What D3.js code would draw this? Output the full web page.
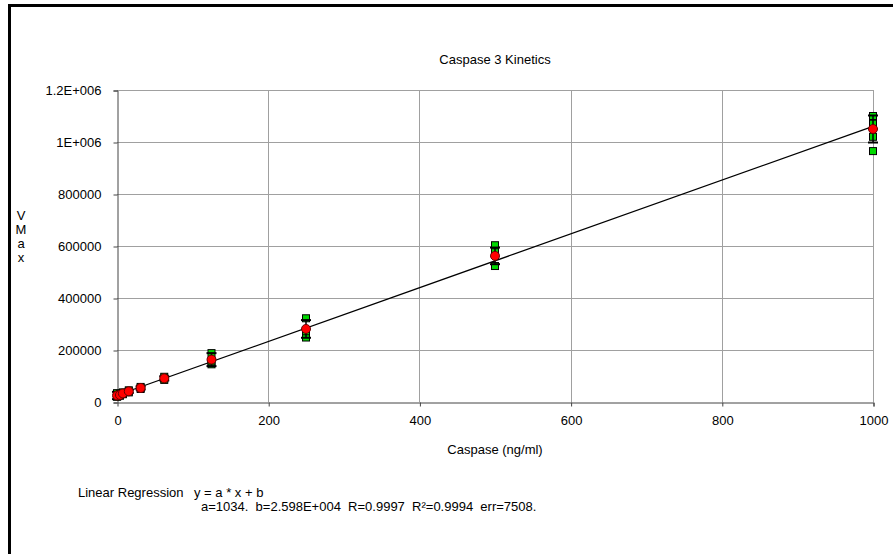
<!DOCTYPE html>
<meta charset="utf-8">
<style>
  body { margin: 0; background: #fff; }
  text { font-family: "Liberation Sans", Arial, sans-serif; fill: #000; }
</style>
<body>
<div id="chart"></div>
<script src="https://d3js.org/d3.v7.min.js"></script>
<script>
  // concentrations (ng/ml)
  var conc = [0, 3.9, 7.8, 15.6, 31.25, 62.5, 125, 250, 500, 1000];
  // replicate wells (green squares)
  var rep1 = [20000, 24000, 30000, 37000, 50000, 85000, 145000, 248000, 523000, 965000];
  var rep2 = [27000, 28000, 33000, 41000, 54000, 91000, 156000, 272000, 580000, 1020000];
  var rep3 = [34000, 31000, 37000, 45000, 58000, 97000, 188000, 322000, 603000, 1070000];
  var rep4 = [null, null, null, null, null, null, null, null, null, 1100000];
  // mean (red) and error
  var vmax = [25000, 27000, 33000, 41000, 54000, 91000, 163000, 281000, 562000, 1050000];
  var vErr = [14000, 6000, 6000, 6000, 6000, 8000, 25000, 34000, 32000, 52000];
  // fit
  var fitA = 1034, fitB = 25980;
  var xTicks = [0, 200, 400, 600, 800, 1000];
  var yTicks = [0, 200000, 400000, 600000, 800000, 1000000, 1200000];
  var yTickLabels = ["0", "200000", "400000", "600000", "800000", "1E+006", "1.2E+006"];

  var W = 893, H = 554, FS = "13px";
  var svg = d3.select("#chart").append("svg")
    .attr("width", W).attr("height", H);

  // frame
  svg.append("line").attr("x1", 9.5).attr("x2", W).attr("y1", 5.5).attr("y2", 5.5)
    .attr("stroke", "#000").attr("stroke-width", 3);
  svg.append("line").attr("x1", 9.5).attr("x2", 9.5).attr("y1", 4).attr("y2", H)
    .attr("stroke", "#000").attr("stroke-width", 3);

  var x = d3.scaleLinear().domain([0, 1000]).range([117, 873]);
  var y = d3.scaleLinear().domain([0, 1200000]).range([402, 90]);

  // grid
  svg.append("g").selectAll("line").data(xTicks.slice(1)).enter().append("line")
    .attr("x1", function(d) { return Math.round(x(d)) + 0.5; })
    .attr("x2", function(d) { return Math.round(x(d)) + 0.5; })
    .attr("y1", y(1200000)).attr("y2", y(0))
    .attr("stroke", "#a0a0a0");
  svg.append("g").selectAll("line").data(yTicks.slice(1)).enter().append("line")
    .attr("y1", function(d) { return Math.round(y(d)) + 0.5; })
    .attr("y2", function(d) { return Math.round(y(d)) + 0.5; })
    .attr("x1", x(0)).attr("x2", x(1000))
    .attr("stroke", "#a0a0a0");

  // axes
  var yAxis = d3.axisLeft(y).tickValues(yTicks).tickSize(4).tickPadding(12)
    .tickFormat(function(d, i) { return yTickLabels[i]; });
  var gy = svg.append("g").attr("transform", "translate(" + (x(0) + 0.5) + ",0.5)").call(yAxis);
  var xAxis = d3.axisBottom(x).tickValues(xTicks).tickSize(4).tickPadding(9)
    .tickFormat(d3.format("d"));
  var gx = svg.append("g").attr("transform", "translate(0.5," + (y(0) + 0.5) + ")").call(xAxis);
  [gx, gy].forEach(function(g) {
    g.select(".domain").attr("stroke", "#444");
    g.selectAll(".tick line").attr("stroke", "#444");
    g.selectAll("text").style("font-family", "Liberation Sans, Arial, sans-serif")
      .style("font-size", FS).attr("fill", "#000");
  });
  gx.select(".tick line").remove();

  // titles
  svg.append("text").attr("x", 495).attr("y", 64).attr("text-anchor", "middle")
    .style("font-size", FS).text("Caspase 3 Kinetics");
  svg.append("text").attr("x", 495).attr("y", 454).attr("text-anchor", "middle")
    .style("font-size", FS).text("Caspase (ng/ml)");
  svg.append("g").selectAll("text").data(["V", "M", "a", "x"]).enter().append("text")
    .attr("x", 21).attr("y", function(d, i) { return 220 + i * 14; })
    .attr("text-anchor", "middle").style("font-size", FS)
    .text(function(d) { return d; });
  svg.append("text").attr("x", 78).attr("y", 497).style("font-size", FS)
    .text("Linear Regression");
  svg.append("text").attr("x", 194).attr("y", 497).style("font-size", FS)
    .text("y = a * x + b");
  svg.append("text").attr("x", 201).attr("y", 511).style("font-size", FS)
    .style("white-space", "pre")
    .text("a=1034.  b=2.598E+004  R=0.9997  R\u00b2=0.9994  err=7508.");

  // fit line
  svg.append("line")
    .attr("x1", x(0)).attr("y1", y(fitB))
    .attr("x2", x(1000)).attr("y2", y(fitA * 1000 + fitB))
    .attr("stroke", "#000").attr("stroke-width", 1.2);

  // replicates
  var reps = [];
  [rep1, rep2, rep3, rep4].forEach(function(r) {
    r.forEach(function(v, i) { if (v != null) reps.push({ c: conc[i], v: v }); });
  });
  svg.append("g").selectAll("rect").data(reps).enter().append("rect")
    .attr("x", function(d) { return x(d.c) - 3.5; })
    .attr("y", function(d) { return y(d.v) - 3.5; })
    .attr("width", 7).attr("height", 7)
    .attr("fill", "#00d800").attr("stroke", "#000").attr("stroke-width", 1);

  // error bars
  var eb = svg.append("g").attr("stroke", "#000").attr("stroke-width", 2);
  conc.forEach(function(c, i) {
    var cx = x(c), t = y(vmax[i] + vErr[i]), b = y(vmax[i] - vErr[i]);
    eb.append("line").attr("x1", cx).attr("x2", cx).attr("y1", t).attr("y2", b).attr("stroke-width", 1.5);
    eb.append("line").attr("x1", cx - 5).attr("x2", cx + 5).attr("y1", t).attr("y2", t);
    eb.append("line").attr("x1", cx - 5).attr("x2", cx + 5).attr("y1", b).attr("y2", b);
  });

  // means
  svg.append("g").selectAll("circle").data(conc).enter().append("circle")
    .attr("cx", function(d) { return x(d); })
    .attr("cy", function(d, i) { return y(vmax[i]); })
    .attr("r", 4.5)
    .attr("fill", "#ff0000").attr("stroke", "#600").attr("stroke-width", 1);
</script>
</body>
